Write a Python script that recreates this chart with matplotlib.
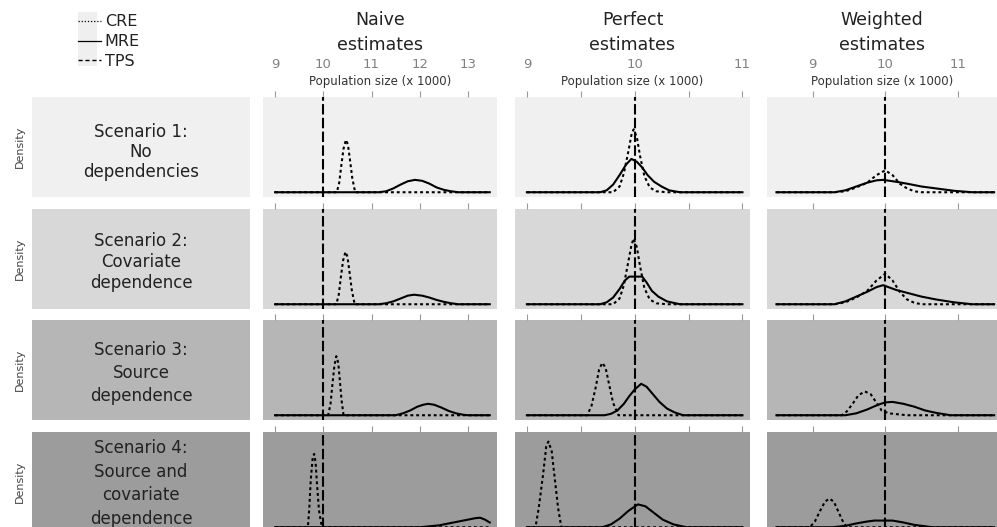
import matplotlib.pyplot as plt
from matplotlib.lines import Line2D
from matplotlib.patches import Rectangle

# ---- data (x in thousands, y = relative density) ----
scenario_labels = ['Scenario 1:\nNo\ndependencies',
                   'Scenario 2:\nCovariate\ndependence',
                   'Scenario 3:\nSource\ndependence',
                   'Scenario 4:\nSource and\ncovariate\ndependence']
column_titles = [('Naive', 'estimates'), ('Perfect', 'estimates'), ('Weighted', 'estimates')]
true_size = 10

# scenario 1
s1_naive_cre = [(9.0, 0), (10.28, 0), (10.33, 0.1), (10.37, 0.27), (10.42, 0.46), (10.47, 0.55),
                (10.51, 0.5), (10.55, 0.35), (10.6, 0.15), (10.66, 0), (13.45, 0)]
s1_naive_mre = [(9.0, 0), (11.15, 0), (11.3, 0.01), (11.45, 0.04), (11.6, 0.08), (11.75, 0.115),
                (11.9, 0.13), (12.05, 0.12), (12.2, 0.09), (12.35, 0.05), (12.5, 0.025),
                (12.65, 0.01), (12.8, 0), (13.45, 0)]
s1_perfect_cre = [(9.0, 0), (9.8, 0), (9.86, 0.06), (9.9, 0.2), (9.94, 0.42), (9.97, 0.6),
                  (9.99, 0.66), (10.02, 0.58), (10.05, 0.38), (10.09, 0.17), (10.14, 0.05),
                  (10.2, 0.01), (10.3, 0), (11.0, 0)]
s1_perfect_mre = [(9.0, 0), (9.68, 0), (9.74, 0.02), (9.8, 0.08), (9.86, 0.18), (9.92, 0.29),
                  (9.97, 0.35), (10.02, 0.32), (10.07, 0.26), (10.12, 0.18), (10.18, 0.11),
                  (10.25, 0.06), (10.32, 0.02), (10.42, 0), (11.0, 0)]
s1_weighted_cre = [(8.5, 0), (9.3, 0), (9.45, 0.01), (9.6, 0.05), (9.75, 0.1), (9.88, 0.18),
                   (10.0, 0.23), (10.1, 0.18), (10.2, 0.09), (10.3, 0.04), (10.4, 0.01),
                   (10.5, 0), (11.5, 0)]
s1_weighted_mre = [(8.5, 0), (9.3, 0), (9.45, 0.02), (9.6, 0.06), (9.75, 0.1), (9.88, 0.125),
                   (9.97, 0.13), (10.15, 0.11), (10.3, 0.09), (10.5, 0.06), (10.7, 0.04),
                   (10.95, 0.015), (11.2, 0), (11.5, 0)]

# scenario 2
s2_naive_cre = [(9.0, 0), (10.27, 0), (10.32, 0.1), (10.36, 0.27), (10.41, 0.46), (10.46, 0.55),
                (10.5, 0.5), (10.54, 0.35), (10.59, 0.15), (10.65, 0), (13.45, 0)]
s2_naive_mre = [(9.0, 0), (11.15, 0), (11.3, 0.01), (11.45, 0.03), (11.6, 0.06), (11.75, 0.09),
                (11.88, 0.1), (12.05, 0.09), (12.2, 0.07), (12.35, 0.045), (12.5, 0.025),
                (12.65, 0.01), (12.8, 0), (13.45, 0)]
s2_perfect_cre = [(9.0, 0), (9.8, 0), (9.86, 0.06), (9.9, 0.2), (9.94, 0.44), (9.97, 0.62),
                  (9.99, 0.69), (10.02, 0.6), (10.05, 0.4), (10.09, 0.17), (10.14, 0.05),
                  (10.2, 0.01), (10.3, 0), (11.0, 0)]
s2_perfect_mre = [(9.0, 0), (9.68, 0), (9.74, 0.02), (9.8, 0.07), (9.86, 0.16), (9.91, 0.25),
                  (9.95, 0.29), (10.07, 0.29), (10.11, 0.23), (10.16, 0.14), (10.22, 0.08),
                  (10.3, 0.03), (10.42, 0), (11.0, 0)]
s2_weighted_cre = [(8.5, 0), (9.3, 0), (9.45, 0.02), (9.6, 0.07), (9.75, 0.14), (9.88, 0.25),
                   (10.0, 0.32), (10.1, 0.25), (10.2, 0.13), (10.3, 0.05), (10.4, 0.015),
                   (10.5, 0), (11.5, 0)]
s2_weighted_mre = [(8.5, 0), (9.3, 0), (9.45, 0.03), (9.6, 0.08), (9.75, 0.13), (9.88, 0.18),
                   (9.97, 0.2), (10.15, 0.15), (10.3, 0.12), (10.5, 0.08), (10.7, 0.05),
                   (10.95, 0.02), (11.2, 0), (11.5, 0)]

# scenario 3
s3_naive_cre = [(9.0, 0), (10.1, 0), (10.15, 0.12), (10.19, 0.33), (10.23, 0.52), (10.27, 0.62),
                (10.31, 0.55), (10.34, 0.38), (10.38, 0.15), (10.42, 0), (13.45, 0)]
s3_naive_mre = [(9.0, 0), (11.5, 0), (11.65, 0.02), (11.8, 0.05), (11.95, 0.09), (12.07, 0.11),
                (12.17, 0.12), (12.3, 0.11), (12.45, 0.08), (12.6, 0.045), (12.75, 0.02),
                (12.9, 0.005), (13.0, 0), (13.45, 0)]
s3_perfect_cre = [(9.0, 0), (9.56, 0), (9.6, 0.1), (9.64, 0.3), (9.67, 0.48), (9.7, 0.55),
                  (9.73, 0.5), (9.76, 0.34), (9.8, 0.13), (9.85, 0), (11.0, 0)]
s3_perfect_mre = [(9.0, 0), (9.72, 0), (9.78, 0.015), (9.84, 0.05), (9.9, 0.12), (9.95, 0.2),
                  (10.0, 0.27), (10.06, 0.33), (10.11, 0.3), (10.17, 0.22), (10.23, 0.14),
                  (10.3, 0.07), (10.37, 0.03), (10.45, 0), (11.0, 0)]
s3_weighted_cre = [(8.5, 0), (9.4, 0), (9.47, 0.04), (9.55, 0.12), (9.63, 0.21), (9.72, 0.25),
                   (9.8, 0.22), (9.88, 0.13), (9.95, 0.05), (10.05, 0.02), (10.3, 0), (11.5, 0)]
s3_weighted_mre = [(8.5, 0), (9.45, 0), (9.6, 0.02), (9.75, 0.06), (9.9, 0.11), (10.0, 0.135),
                   (10.1, 0.14), (10.25, 0.12), (10.4, 0.09), (10.55, 0.05), (10.7, 0.025),
                   (10.9, 0), (11.5, 0)]

# scenario 4
s4_naive_cre = [(9.0, 0), (9.68, 0), (9.71, 0.2), (9.74, 0.5), (9.78, 0.73), (9.81, 0.77),
                (9.84, 0.68), (9.87, 0.45), (9.91, 0.18), (9.97, 0), (13.45, 0)]
s4_naive_mre = [(9.0, 0), (12.0, 0), (12.2, 0.01), (12.4, 0.02), (12.6, 0.04), (12.8, 0.06),
                (13.0, 0.08), (13.15, 0.095), (13.25, 0.1), (13.35, 0.08), (13.45, 0.05)]
s4_perfect_cre = [(9.0, 0), (9.08, 0), (9.11, 0.2), (9.15, 0.55), (9.18, 0.85), (9.2, 0.9),
                  (9.23, 0.8), (9.26, 0.5), (9.29, 0.2), (9.32, 0), (11.0, 0)]
s4_perfect_mre = [(9.0, 0), (9.7, 0), (9.78, 0.03), (9.86, 0.09), (9.94, 0.17), (10.03, 0.24),
                  (10.1, 0.22), (10.18, 0.15), (10.26, 0.08), (10.36, 0.03), (10.48, 0),
                  (11.0, 0)]
s4_weighted_cre = [(8.5, 0), (8.96, 0), (9.03, 0.06), (9.1, 0.17), (9.17, 0.27), (9.23, 0.3),
                   (9.29, 0.27), (9.35, 0.17), (9.41, 0.07), (9.47, 0), (11.5, 0)]
s4_weighted_mre = [(8.5, 0), (9.28, 0), (9.45, 0.015), (9.6, 0.04), (9.75, 0.06), (9.85, 0.07),
                   (10.1, 0.07), (10.25, 0.05), (10.4, 0.025), (10.65, 0), (11.5, 0)]

cre_curves = [[s1_naive_cre, s1_perfect_cre, s1_weighted_cre],
              [s2_naive_cre, s2_perfect_cre, s2_weighted_cre],
              [s3_naive_cre, s3_perfect_cre, s3_weighted_cre],
              [s4_naive_cre, s4_perfect_cre, s4_weighted_cre]]
mre_curves = [[s1_naive_mre, s1_perfect_mre, s1_weighted_mre],
              [s2_naive_mre, s2_perfect_mre, s2_weighted_mre],
              [s3_naive_mre, s3_perfect_mre, s3_weighted_mre],
              [s4_naive_mre, s4_perfect_mre, s4_weighted_mre]]

col_xlim = [(8.75, 13.6), (8.89, 11.07), (8.37, 11.54)]
col_ticks = [[9, 10, 11, 12, 13], [9, 9.5, 10, 10.5, 11], [9, 10, 11]]
col_ticklabels = [['9', '10', '11', '12', '13'], ['9', '', '10', '', '11'], ['9', '10', '11']]

# ---- layout (pixels) ----
W, H = 997, 527
row_tops = [97, 209, 320, 432]
row_h = 100
col_bounds = [(32, 250), (263, 497), (515, 750), (767, 997)]
row_colors = ['#f0f0f0', '#d8d8d8', '#b6b6b6', '#9c9c9c']
label_y = [0.45, 0.47, 0.47, 0.485]
label_spacing = [1.15, 1.2, 1.36, 1.42]

CRE_STYLE = dict(color='black', lw=1.5, linestyle=(0, (1.4, 1.4)))
MRE_STYLE = dict(color='black', lw=1.5, linestyle='-')
TPS_STYLE = dict(color='black', lw=1.5, linestyle=(0, (5, 1.6)))

plt.rcParams['font.family'] = 'DejaVu Sans'
fig = plt.figure(figsize=(W / 100, H / 100), dpi=100)


def px_axes(x0, y0, x1, y1):
    return fig.add_axes([x0 / W, 1 - y1 / H, (x1 - x0) / W, (y1 - y0) / H])


for r in range(4):
    top = row_tops[r]
    # label panel
    x0, x1 = col_bounds[0]
    lab = px_axes(x0, top, x1, top + row_h)
    lab.set_facecolor(row_colors[r])
    lab.set_xticks([])
    lab.set_yticks([])
    for s in lab.spines.values():
        s.set_visible(False)
    lab.text(0.5, label_y[r], scenario_labels[r], ha='center', va='center', fontsize=12,
             color='#222222', linespacing=label_spacing[r], transform=lab.transAxes)
    fig.text(20 / W, 1 - (top + row_h / 2) / H, 'Density', rotation=90, ha='center',
             va='center', fontsize=8, color='#444444')

    for c in range(3):
        x0, x1 = col_bounds[c + 1]
        ax = px_axes(x0, top, x1, top + row_h)
        ax.set_facecolor(row_colors[r])
        for s in ax.spines.values():
            s.set_visible(False)
        ax.set_xlim(*col_xlim[c])
        ax.set_ylim(-0.05, 1.0)
        ax.set_yticks([])
        ax.set_xticks(col_ticks[c])
        ax.set_xticklabels(col_ticklabels[c])
        ax.tick_params(axis='x', direction='out', length=4, width=0.8, color='#9a9a9a',
                       top=True, bottom=False, labeltop=(r == 0), labelbottom=False,
                       labelsize=9.5, labelcolor='#808080', pad=15)

        cx, cy = zip(*cre_curves[r][c])
        mx, my = zip(*mre_curves[r][c])
        ax.plot(cx, cy, **CRE_STYLE)
        ax.plot(mx, my, **MRE_STYLE)
        ax.axvline(true_size, **TPS_STYLE)

        if r == 0:
            ax.annotate('Population size (x 1000)', xy=(0.5, 1), xycoords='axes fraction',
                        xytext=(0, 11.5), textcoords='offset points', ha='center',
                        va='center', fontsize=8.5, color='#333333')
            fig.text((x0 + x1) / 2 / W, 1 - 20 / H, column_titles[c][0], ha='center',
                     va='center', fontsize=12.5, color='#222222')
            fig.text((x0 + x1) / 2 / W, 1 - 45 / H, column_titles[c][1], ha='center',
                     va='center', fontsize=12.5, color='#222222')

# legend in the top-left corner
fig.patches.append(Rectangle((78 / W, 1 - 66 / H), 19 / W, 54 / H, transform=fig.transFigure,
                             facecolor='#efefef', edgecolor='none'))
handles = [Line2D([], [], color='black', lw=0.9, linestyle=(0, (1, 1.5))),
           Line2D([], [], color='black', lw=0.9, linestyle='-'),
           Line2D([], [], color='black', lw=1.0, linestyle=(0, (3, 2)))]
fig.legend(handles, ['CRE', 'MRE', 'TPS'], loc='upper left',
           bbox_to_anchor=(72 / W, 1 - 8 / H), frameon=False, fontsize=11.5,
           handlelength=1.4, handletextpad=0.25, labelspacing=0.3, borderaxespad=0,
           labelcolor='#222222')

fig.savefig('out.png', dpi=100)
